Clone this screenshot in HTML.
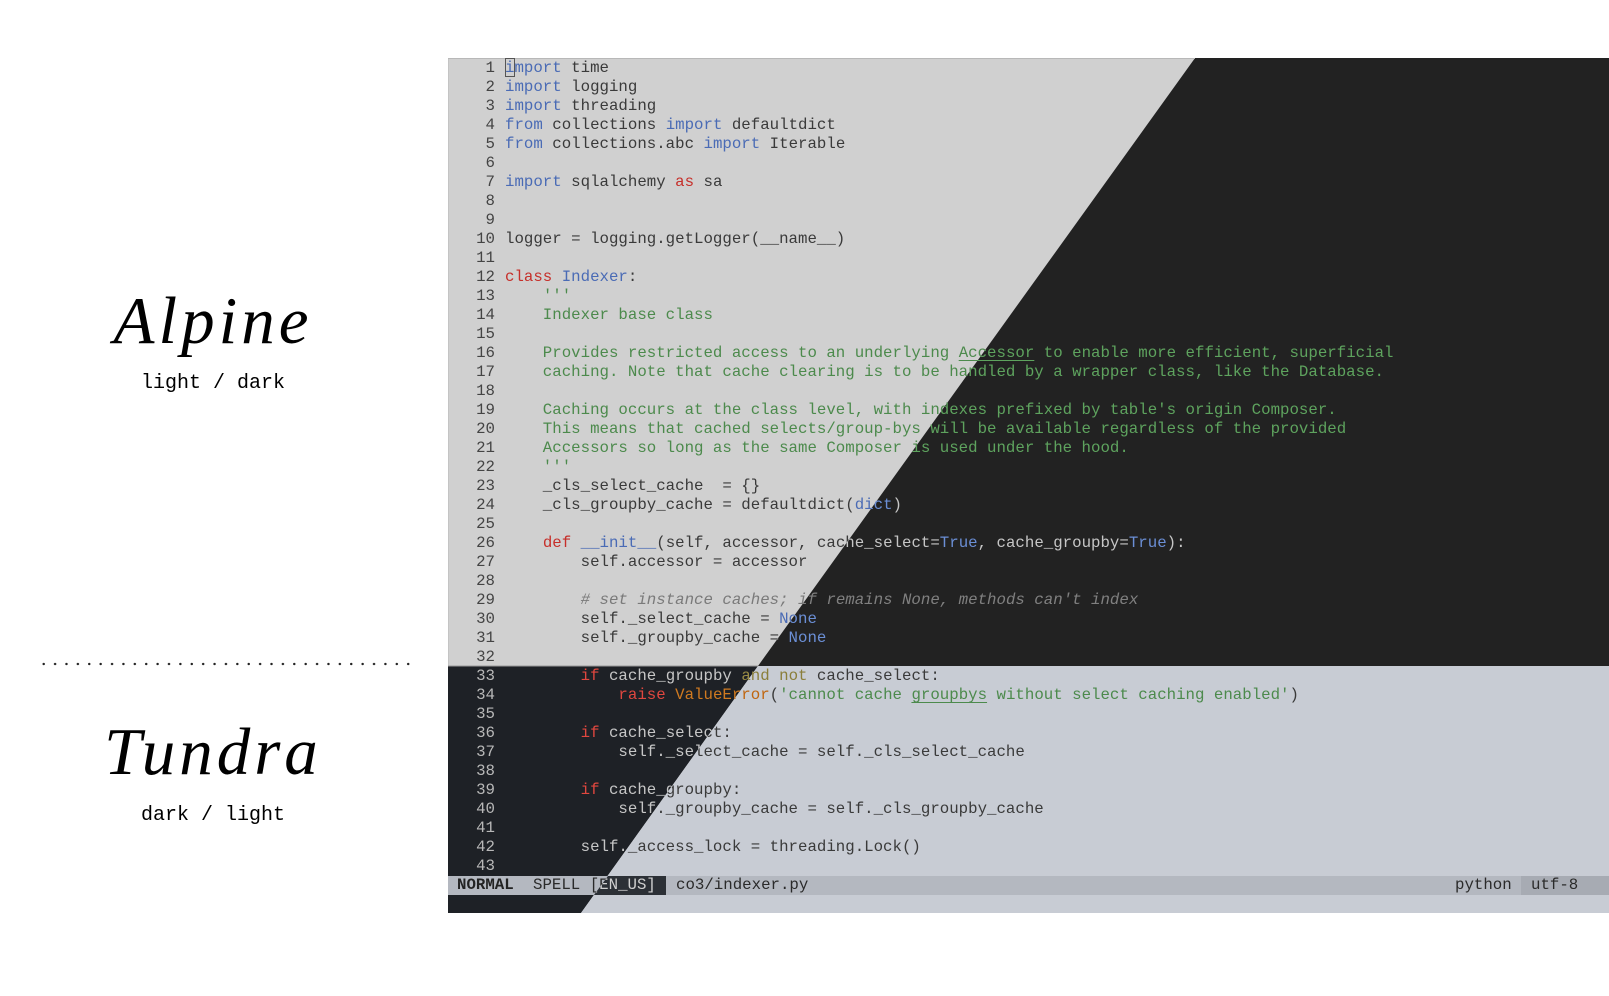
<!DOCTYPE html>
<html><head><meta charset="utf-8">
<style>
html,body{margin:0;padding:0;background:#fff;width:1609px;height:996px;overflow:hidden;position:relative}
.title{position:absolute;left:13px;width:400px;text-align:center;font-family:"Liberation Serif",serif;font-style:italic;font-size:67px;letter-spacing:4px;color:#000}
.sub{position:absolute;left:13px;width:400px;text-align:center;font-family:"Liberation Mono",monospace;font-size:20px;color:#000}
.dots{position:absolute;left:38px;top:662px;width:374px;height:4px;background:radial-gradient(circle,#222 1px,transparent 1.4px) 0 0/11.4px 4px repeat-x}
#panel{position:absolute;left:448px;top:58px;width:1161px;height:855px;overflow:hidden}
.layer{position:absolute;left:0;top:0;width:1161px;height:855px;font-family:"Liberation Mono",monospace;font-size:15.75px;line-height:19px;white-space:pre}
.ln{position:absolute;left:0;top:1px;width:47px;text-align:right}
.code{position:absolute;left:57px;top:1px}
.L{color:#3a3a3a;clip-path:polygon(0 0,747px 0,310px 608px,1161px 608px,1161px 818px,160px 818px,310px 608px,0 608px)}
.D{color:#c6c6c6;clip-path:polygon(747px 0,1161px 0,1161px 608px,310px 608px,160px 818px,0 818px,0 608px,310px 608px)}
.k{color:#4a6bb5}.D .k{color:#6b8fd6}
.r{color:#c62f2a}.D .r{color:#e0473f}
.g{color:#4c8a4c}.D .g{color:#5ea35e}
.c{color:#7a7a7a;font-style:italic}.D .c{color:#808080}
.o{color:#c0650f}.D .o{color:#d07a20}
.y{color:#8a7e3a}.D .y{color:#9a8c45}
.u{text-decoration:underline;text-underline-offset:3px}
.L .ln{color:#444}.D .ln{color:#b8b8b8}
.st{position:absolute;top:818px;height:19px;line-height:19px;font-family:"Liberation Mono",monospace;font-size:15.75px;white-space:pre}
</style></head><body>
<div class="title" style="top:283px">Alpine</div>
<div class="sub" style="top:372px">light / dark</div>
<div class="dots"></div>
<div class="title" style="top:714px">Tundra</div>
<div class="sub" style="top:804px">dark / light</div>

<div id="panel">
<svg width="1161" height="855" style="position:absolute;left:0;top:0">
<polygon points="0,0 747,0 310,608 0,608" fill="#d0d0d0"/>
<polygon points="747,0 1161,0 1161,608 310,608" fill="#222222"/>
<polygon points="0,608 310,608 133,855 0,855" fill="#1e2126"/>
<polygon points="310,608 1161,608 1161,855 133,855" fill="#c8ccd4"/>
<line x1="0" y1="0.5" x2="747" y2="0.5" stroke="#b8b8b8"/>
<line x1="0" y1="0" x2="0" y2="608" stroke="#b8b8b8"/>
<line x1="0" y1="608" x2="310" y2="608" stroke="#999"/>
<rect x="0" y="818" width="1161" height="19" fill="#b4b8c0"/>
<polygon points="160,818 218,818 218,837 146,837" fill="#2c3036"/>
<rect x="1073" y="818" width="88" height="19" fill="#a7abb3"/>
<rect x="57.5" y="0.5" width="9" height="18" fill="none" stroke="#555"/>
</svg>
<div class="layer L"><div class="ln">1
2
3
4
5
6
7
8
9
10
11
12
13
14
15
16
17
18
19
20
21
22
23
24
25
26
27
28
29
30
31
32
33
34
35
36
37
38
39
40
41
42
43</div><div class="code"><span class="k">import</span> time
<span class="k">import</span> logging
<span class="k">import</span> threading
<span class="k">from</span> collections <span class="k">import</span> defaultdict
<span class="k">from</span> collections.abc <span class="k">import</span> Iterable

<span class="k">import</span> sqlalchemy <span class="r">as</span> sa


logger = logging.getLogger(__name__)

<span class="r">class</span> <span class="k">Indexer</span>:
    <span class="g">'''</span>
<span class="g">    Indexer base class</span>

<span class="g">    Provides restricted access to an underlying <span class="u">Accessor</span> to enable more efficient, superficial</span>
<span class="g">    caching. Note that cache clearing is to be handled by a wrapper class, like the Database.</span>

<span class="g">    Caching occurs at the class level, with indexes prefixed by table's origin Composer.</span>
<span class="g">    This means that cached selects/group-bys will be available regardless of the provided</span>
<span class="g">    Accessors so long as the same Composer is used under the hood.</span>
<span class="g">    '''</span>
    _cls_select_cache  = {}
    _cls_groupby_cache = defaultdict(<span class="k">dict</span>)

    <span class="r">def</span> <span class="k">__init__</span>(self, accessor, cache_select=<span class="k">True</span>, cache_groupby=<span class="k">True</span>):
        self.accessor = accessor

        <span class="c"># set instance caches; if remains None, methods can't index</span>
        self._select_cache = <span class="k">None</span>
        self._groupby_cache = <span class="k">None</span>

        <span class="r">if</span> cache_groupby <span class="y">and not</span> cache_select:
            <span class="r">raise</span> <span class="o">ValueError</span>(<span class="g">'cannot cache <span class="u">groupbys</span> without select caching enabled'</span>)

        <span class="r">if</span> cache_select:
            self._select_cache = self._cls_select_cache

        <span class="r">if</span> cache_groupby:
            self._groupby_cache = self._cls_groupby_cache

        self._access_lock = threading.Lock()
</div></div>
<div class="layer D"><div class="ln">1
2
3
4
5
6
7
8
9
10
11
12
13
14
15
16
17
18
19
20
21
22
23
24
25
26
27
28
29
30
31
32
33
34
35
36
37
38
39
40
41
42
43</div><div class="code"><span class="k">import</span> time
<span class="k">import</span> logging
<span class="k">import</span> threading
<span class="k">from</span> collections <span class="k">import</span> defaultdict
<span class="k">from</span> collections.abc <span class="k">import</span> Iterable

<span class="k">import</span> sqlalchemy <span class="r">as</span> sa


logger = logging.getLogger(__name__)

<span class="r">class</span> <span class="k">Indexer</span>:
    <span class="g">'''</span>
<span class="g">    Indexer base class</span>

<span class="g">    Provides restricted access to an underlying <span class="u">Accessor</span> to enable more efficient, superficial</span>
<span class="g">    caching. Note that cache clearing is to be handled by a wrapper class, like the Database.</span>

<span class="g">    Caching occurs at the class level, with indexes prefixed by table's origin Composer.</span>
<span class="g">    This means that cached selects/group-bys will be available regardless of the provided</span>
<span class="g">    Accessors so long as the same Composer is used under the hood.</span>
<span class="g">    '''</span>
    _cls_select_cache  = {}
    _cls_groupby_cache = defaultdict(<span class="k">dict</span>)

    <span class="r">def</span> <span class="k">__init__</span>(self, accessor, cache_select=<span class="k">True</span>, cache_groupby=<span class="k">True</span>):
        self.accessor = accessor

        <span class="c"># set instance caches; if remains None, methods can't index</span>
        self._select_cache = <span class="k">None</span>
        self._groupby_cache = <span class="k">None</span>

        <span class="r">if</span> cache_groupby <span class="y">and not</span> cache_select:
            <span class="r">raise</span> <span class="o">ValueError</span>(<span class="g">'cannot cache <span class="u">groupbys</span> without select caching enabled'</span>)

        <span class="r">if</span> cache_select:
            self._select_cache = self._cls_select_cache

        <span class="r">if</span> cache_groupby:
            self._groupby_cache = self._cls_groupby_cache

        self._access_lock = threading.Lock()
</div></div>
<div class="st" style="left:9px;color:#222;font-weight:bold">NORMAL</div>
<div class="st" style="left:85px;color:#2a2a2a;clip-path:polygon(0 0,75px 0,61px 19px,0 19px)">SPELL [EN_US]</div>
<div class="st" style="left:85px;color:#d0d0d0;clip-path:polygon(75px 0,200px 0,200px 19px,61px 19px)">SPELL [EN_US]</div>
<div class="st" style="left:228px;color:#2a2a2a">co3/indexer.py</div>
<div class="st" style="left:1007px;color:#2a2a2a">python</div>
<div class="st" style="left:1083px;color:#2a2a2a">utf-8</div>
</div>
</body></html>
